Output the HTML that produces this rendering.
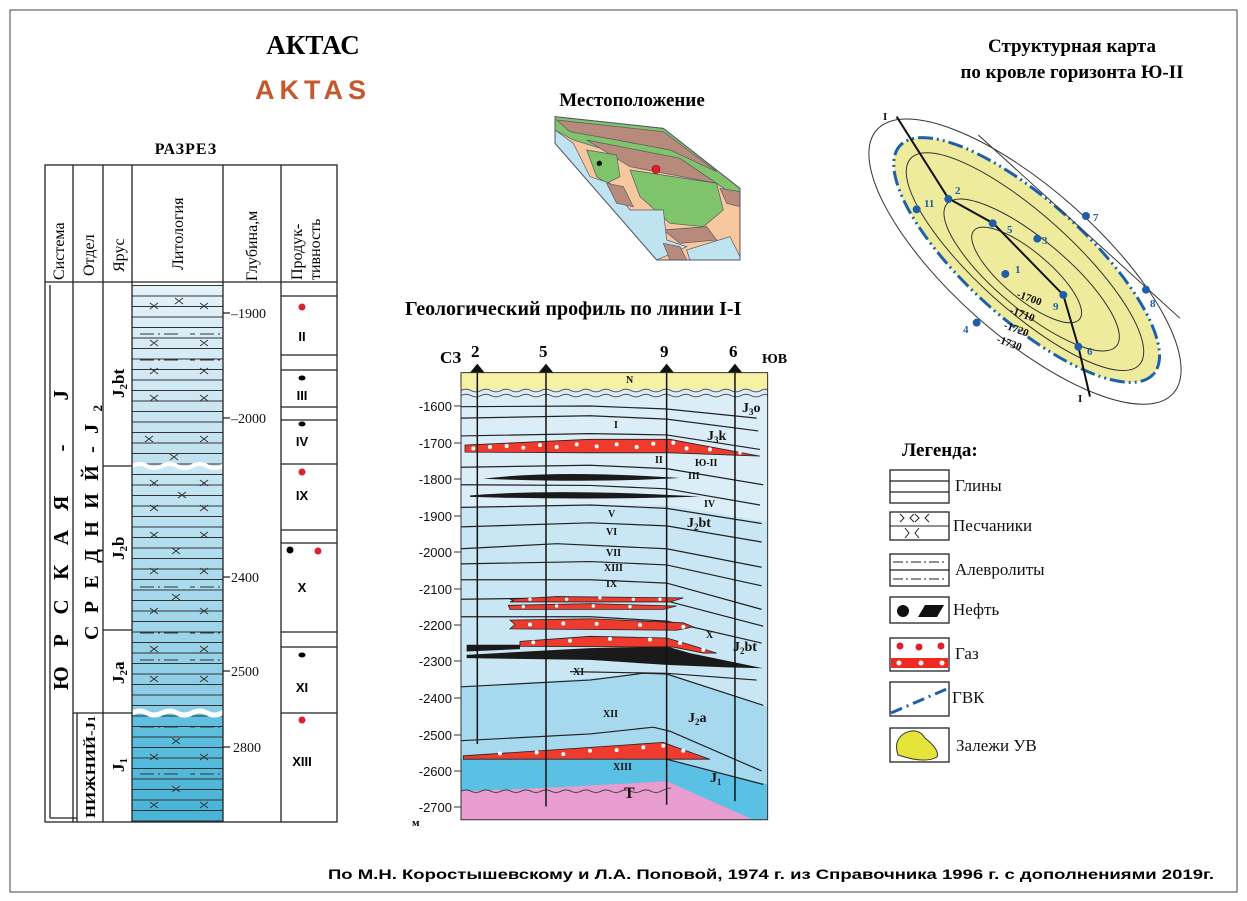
<!DOCTYPE html>
<html><head><meta charset="utf-8"><style>html,body{margin:0;padding:0;background:#fff}svg{display:block}</style></head><body>
<svg width="1247" height="901" viewBox="0 0 1247 901" xmlns="http://www.w3.org/2000/svg" font-family="'Liberation Serif','Noto Serif CJK SC',serif">
<defs>
<pattern id="hl" width="20" height="10.5" patternUnits="userSpaceOnUse" y="285"><line x1="0" y1="0.5" x2="20" y2="0.5" stroke="#333" stroke-width="0.9"/></pattern>
<linearGradient id="g1" x1="0" y1="0" x2="0" y2="1"><stop offset="0" stop-color="#e4f2f9"/><stop offset="1" stop-color="#bfe0ef"/></linearGradient>
<linearGradient id="g2" x1="0" y1="0" x2="0" y2="1"><stop offset="0" stop-color="#c9e7f3"/><stop offset="1" stop-color="#86cbe5"/></linearGradient>
<linearGradient id="g3" x1="0" y1="0" x2="0" y2="1"><stop offset="0" stop-color="#62c0e0"/><stop offset="1" stop-color="#47b3d6"/></linearGradient>
</defs>
<rect x="10" y="10" width="1227" height="882" fill="none" stroke="#444" stroke-width="1"/>

<text x="313" y="54" font-size="27" font-weight="bold" text-anchor="middle">АКТАС</text>
<text x="313" y="99" font-size="27" font-weight="bold" text-anchor="middle" fill="#c4592d" letter-spacing="5" font-family="'Liberation Sans',sans-serif">AKTAS</text>
<text x="186" y="154" font-size="16" font-weight="bold" text-anchor="middle" letter-spacing="1">РАЗРЕЗ</text>

<rect x="132" y="285" width="91" height="181" fill="url(#g1)"/>
<rect x="132" y="466" width="91" height="247" fill="url(#g2)"/>
<rect x="132" y="713" width="91" height="109" fill="url(#g3)"/>
<rect x="132" y="285" width="91" height="537" fill="url(#hl)"/>
<path d="M132 466 q8 -4 15 0 t15 0 t15 0 t15 0 t15 0 t15 0 t8 0" stroke="#fff" stroke-width="4" fill="none"/>
<path d="M132 713 q8 -4 15 0 t15 0 t15 0 t15 0 t15 0 t15 0 t8 0" stroke="#fff" stroke-width="5" fill="none"/>
<g stroke="#333" stroke-width="1" fill="none">
<path d="M150 303l8 6m0-6l-8 6M175 298l8 6m0-6l-8 6M200 303l8 6m0-6l-8 6M150 340l8 6m0-6l-8 6M200 340l8 6m0-6l-8 6M150 368l8 6m0-6l-8 6M200 368l8 6m0-6l-8 6M150 395l8 6m0-6l-8 6M200 395l8 6m0-6l-8 6M145 436l8 6m0-6l-8 6M200 436l8 6m0-6l-8 6M170 454l8 6m0-6l-8 6M150 480l8 6m0-6l-8 6M200 480l8 6m0-6l-8 6M178 492l8 6m0-6l-8 6M150 505l8 6m0-6l-8 6M200 505l8 6m0-6l-8 6M150 532l8 6m0-6l-8 6M200 532l8 6m0-6l-8 6M172 548l8 6m0-6l-8 6M150 568l8 6m0-6l-8 6M200 568l8 6m0-6l-8 6M172 594l8 6m0-6l-8 6M150 608l8 6m0-6l-8 6M200 608l8 6m0-6l-8 6M150 646l8 6m0-6l-8 6M200 646l8 6m0-6l-8 6M150 676l8 6m0-6l-8 6M200 676l8 6m0-6l-8 6M172 738l8 6m0-6l-8 6M150 754l8 6m0-6l-8 6M200 754l8 6m0-6l-8 6M172 786l8 6m0-6l-8 6M150 802l8 6m0-6l-8 6M200 802l8 6m0-6l-8 6"/>
<path d="M140 334h40m10 0h5m5 0h20M140 360h40m10 0h5m5 0h20M140 422h40m10 0h5m5 0h20M140 587h40m10 0h5m5 0h20M140 633h40m10 0h5m5 0h20M140 660h40m10 0h5m5 0h20M140 727h40m10 0h5m5 0h20M140 774h40m10 0h5m5 0h20" stroke-dasharray="14 4 2 4"/>
</g>
<g stroke="#222" stroke-width="1.3" fill="none">
<rect x="45" y="165" width="292" height="657"/>
<line x1="45" y1="282" x2="337" y2="282"/>
<line x1="73" y1="165" x2="73" y2="822"/><line x1="103" y1="165" x2="103" y2="822"/>
<line x1="132" y1="165" x2="132" y2="822"/><line x1="223" y1="165" x2="223" y2="822"/>
<line x1="281" y1="165" x2="281" y2="822"/>
<line x1="103" y1="466" x2="132" y2="466"/><line x1="103" y1="630" x2="132" y2="630"/><line x1="103" y1="713" x2="132" y2="713"/>
<line x1="73" y1="713" x2="103" y2="713"/><line x1="77" y1="713" x2="77" y2="822"/><line x1="50" y1="285" x2="50" y2="818"/><line x1="50" y1="818" x2="77" y2="818"/>
<path d="M281 296h56M281 355h56M281 370h56M281 407h56M281 420h56M281 464h56M281 530h56M281 543h56M281 632h56M281 647h56M281 713h56"/>
<path d="M223 313h7M223 418h7M223 577h7M223 671h7M223 747h7"/>
</g>
<g font-size="14" fill="#111">
<text x="231" y="318">–1900</text><text x="231" y="423">–2000</text><text x="231" y="582">2400</text><text x="231" y="676">2500</text><text x="233" y="752">2800</text>
</g>
<g font-size="16">
<text transform="translate(64,280) rotate(-90)">Система</text>
<text transform="translate(94,276) rotate(-90)">Отдел</text>
<text transform="translate(124,272) rotate(-90)">Ярус</text>
<text transform="translate(183,270) rotate(-90)">Литология</text>
<text transform="translate(257,281) rotate(-90)">Глубина,м</text>
<text transform="translate(302,280) rotate(-90)">Продук-</text>
<text transform="translate(320,280) rotate(-90)">тивность</text>
<text transform="translate(68,690) rotate(-90)" font-size="21" font-weight="bold" textLength="300" lengthAdjust="spacing">ЮРСКАЯ - J</text>
<text transform="translate(98,640) rotate(-90)" font-size="20" font-weight="bold" textLength="235" lengthAdjust="spacing">СРЕДНИЙ-J<tspan font-size="13" dy="4">2</tspan></text>
<text transform="translate(95,818) rotate(-90)" font-size="14" font-weight="bold" textLength="102" lengthAdjust="spacingAndGlyphs">НИЖНИЙ-J<tspan font-size="10">1</tspan></text>
<text transform="translate(124,398) rotate(-90)" font-size="17" font-weight="bold">J<tspan font-size="11" dy="3">2</tspan><tspan dy="-3">bt</tspan></text>
<text transform="translate(124,560) rotate(-90)" font-size="17" font-weight="bold">J<tspan font-size="11" dy="3">2</tspan><tspan dy="-3">b</tspan></text>
<text transform="translate(124,684) rotate(-90)" font-size="17" font-weight="bold">J<tspan font-size="11" dy="3">2</tspan><tspan dy="-3">a</tspan></text>
<text transform="translate(124,772) rotate(-90)" font-size="17" font-weight="bold">J<tspan font-size="11" dy="3">1</tspan></text>
</g>
<g font-family="'Liberation Sans',sans-serif" font-weight="bold" font-size="13" text-anchor="middle">
<circle cx="302" cy="307" r="3.5" fill="#e0202a"/><text x="302" y="341">II</text>
<ellipse cx="302" cy="378" rx="3.5" ry="2.5" fill="#000"/><text x="302" y="400">III</text>
<ellipse cx="302" cy="424" rx="3.5" ry="2.5" fill="#000"/><text x="302" y="446">IV</text>
<circle cx="302" cy="472" r="3.5" fill="#e0202a"/><text x="302" y="500">IX</text>
<circle cx="290" cy="550" r="3.5" fill="#000"/><circle cx="318" cy="551" r="3.5" fill="#e0202a"/><text x="302" y="592">X</text>
<ellipse cx="302" cy="655" rx="3.5" ry="2.5" fill="#000"/><text x="302" y="692">XI</text>
<circle cx="302" cy="720" r="3.5" fill="#e0202a"/><text x="302" y="766">XIII</text>
</g>

<text x="632" y="106" font-size="19" font-weight="bold" text-anchor="middle">Местоположение</text>
<g transform="translate(530,100) scale(0.3333)" stroke="#556" stroke-width="2">
<path d="M75 50 L400 85 L630 265 L630 480 L380 480 L75 130 Z" fill="#f7c79e"/>
<path d="M75 50 L400 85 L630 265 L630 300 L560 250 L420 190 L260 160 L130 120 L75 90 Z" fill="#7fc46a"/>
<path d="M80 60 L400 95 L560 215 L420 150 L260 120 L120 95 Z" fill="#b88a7c"/>
<path d="M170 120 L450 175 L560 250 L300 200 Z" fill="#b88a7c"/>
<path d="M300 210 L560 250 L580 330 L520 380 L420 370 L330 290 Z" fill="#7fc46a"/>
<path d="M170 150 L260 165 L270 230 L230 250 L200 230 Z" fill="#7fc46a"/>
<path d="M570 265 L630 275 L630 320 L590 310 Z" fill="#b88a7c"/>
<path d="M400 390 L530 380 L560 420 L450 430 Z" fill="#b88a7c"/>
<path d="M75 130 L75 90 L130 130 L180 230 L240 250 L300 330 L400 330 L410 420 L470 440 L380 480 Z" fill="#bfe3ef"/>
<path d="M470 450 L600 410 L630 470 L630 480 L480 480 Z" fill="#bfe3ef"/>
<path d="M230 250 L280 260 L310 320 L260 310 Z" fill="#b88a7c"/>
<path d="M400 430 L450 440 L470 480 L420 480 Z" fill="#b88a7c"/>
<path d="M75 50 L400 85 L630 265 L630 480 L380 480 L75 130 Z" fill="none" stroke-width="3"/>
<circle cx="208" cy="190" r="8" fill="#111" stroke="none"/>
<circle cx="378" cy="208" r="12" fill="#e0202a" stroke="#900"/>
</g>

<text x="405" y="315" font-size="20" font-weight="bold">Геологический профиль по линии I-I</text>
<g transform="translate(390,340) scale(0.3333,0.3367)">
<rect x="213" y="97" width="920" height="1328" fill="#dbeef8"/>
<path d="M213 495 L830 490 L1133 540 L1133 1425 L213 1425Z" fill="#c8e6f3"/>
<path d="M213 1030 L830 990 L1133 1090 L1133 1425 L213 1425Z" fill="#a6d8ee"/>
<path d="M213 1245 L830 1245 L1133 1320 L1133 1425 L213 1425Z" fill="#5bc1e4"/>
<path d="M213 1340 Q520 1330 830 1310 L1090 1425 L213 1425Z" fill="#e89ccf"/>
<rect x="213" y="97" width="920" height="50" fill="#f6f1a3"/>
<path d="M213 150 q15 -8 30 0 t30 0 t30 0 t30 0 t30 0 t30 0 t30 0 t30 0 t30 0 t30 0 t30 0 t30 0 t30 0 t30 0 t30 0 t30 0 t30 0 t30 0 t30 0 t30 0 t30 0 t30 0 t30 0 t30 0 t30 0 t30 0 t30 0 t30 0 t30 0 t30 0 t20 0" stroke="#555" fill="none" stroke-width="1" vector-effect="non-scaling-stroke"/>
<path d="M213 165 q15 -8 30 0 t30 0 t30 0 t30 0 t30 0 t30 0 t30 0 t30 0 t30 0 t30 0 t30 0 t30 0 t30 0 t30 0 t30 0 t30 0 t30 0 t30 0 t30 0 t30 0 t30 0 t30 0 t30 0 t30 0 t30 0 t30 0 t30 0 t30 0 t30 0 t30 0 t20 0" stroke="#555" fill="none" stroke-width="1" vector-effect="non-scaling-stroke"/>
<g stroke="#222" fill="none" stroke-width="1.2">
<path vector-effect="non-scaling-stroke" d="M213 198 L600 196 L830 205 L1100 232"/>
<path vector-effect="non-scaling-stroke" d="M213 232 L600 225 L830 235 L1105 270"/>
<path vector-effect="non-scaling-stroke" d="M213 285 L600 278 L830 282 L1110 325"/>
<path vector-effect="non-scaling-stroke" d="M213 378 L600 372 L830 382 L1120 430"/>
<path vector-effect="non-scaling-stroke" d="M213 430 L600 432 L830 442 L1110 490"/>
<path vector-effect="non-scaling-stroke" d="M213 497 L600 490 L830 500 L1115 545"/>
<path vector-effect="non-scaling-stroke" d="M213 555 L600 543 L830 552 L1115 600"/>
<path vector-effect="non-scaling-stroke" d="M213 620 L500 605 L830 620 L1115 675"/>
<path vector-effect="non-scaling-stroke" d="M213 665 L600 658 L830 668 L1115 730"/>
<path vector-effect="non-scaling-stroke" d="M213 712 L600 712 L830 722 L1115 800"/>
<path vector-effect="non-scaling-stroke" d="M213 770 L600 765 L830 775 L1120 850"/>
<path vector-effect="non-scaling-stroke" d="M213 822 L600 822 L830 835 L1115 900"/>
<path vector-effect="non-scaling-stroke" d="M540 985 L830 990 L1100 1010"/>
<path vector-effect="non-scaling-stroke" d="M213 1030 L600 1010 L760 990 L830 992 L1120 1085"/>
<path vector-effect="non-scaling-stroke" d="M213 1190 L600 1170 L790 1150 L840 1162 L1115 1280"/>
<path vector-effect="non-scaling-stroke" d="M830 1245 L1120 1320"/>
</g>
<g fill="#ee3b2e" stroke="#222" stroke-width="0.8">
<path vector-effect="non-scaling-stroke" d="M225 312 L600 295 L840 295 L1110 345 L840 335 L600 335 L225 333Z"/>
<path vector-effect="non-scaling-stroke" d="M360 770 L500 762 L880 766 L840 778 L360 778 L370 774Z"/>
<path vector-effect="non-scaling-stroke" d="M355 788 L600 783 L860 790 L820 800 L360 800Z"/>
<path vector-effect="non-scaling-stroke" d="M360 832 L600 828 L880 840 L910 852 L860 862 L360 858 L375 845Z"/>
<path vector-effect="non-scaling-stroke" d="M390 895 L600 880 L830 885 L900 905 L980 930 L940 930 L850 912 L390 910Z"/>
<path vector-effect="non-scaling-stroke" d="M220 1235 L600 1210 L820 1195 L860 1210 L960 1245 L220 1245Z"/>
</g>
<g fill="#fff">
<circle cx="250" cy="322" r="6"/><circle cx="300" cy="318" r="6"/><circle cx="350" cy="315" r="6"/><circle cx="400" cy="320" r="6"/><circle cx="450" cy="312" r="6"/><circle cx="500" cy="318" r="6"/><circle cx="560" cy="310" r="6"/><circle cx="620" cy="316" r="6"/><circle cx="680" cy="310" r="6"/><circle cx="740" cy="318" r="6"/><circle cx="790" cy="308" r="6"/><circle cx="850" cy="305" r="6"/><circle cx="890" cy="322" r="6"/><circle cx="960" cy="325" r="6"/><circle cx="1050" cy="335" r="5"/>
<circle cx="420" cy="770" r="5"/><circle cx="530" cy="770" r="5"/><circle cx="630" cy="766" r="5"/><circle cx="730" cy="770" r="5"/><circle cx="810" cy="770" r="5"/>
<circle cx="400" cy="792" r="5"/><circle cx="500" cy="790" r="5"/><circle cx="610" cy="790" r="5"/><circle cx="720" cy="792" r="5"/>
<circle cx="420" cy="845" r="6"/><circle cx="520" cy="842" r="6"/><circle cx="620" cy="843" r="6"/><circle cx="750" cy="846" r="6"/><circle cx="880" cy="852" r="6"/>
<circle cx="430" cy="898" r="6"/><circle cx="540" cy="893" r="6"/><circle cx="660" cy="888" r="6"/><circle cx="780" cy="890" r="6"/><circle cx="870" cy="900" r="6"/><circle cx="940" cy="920" r="6"/>
<circle cx="330" cy="1228" r="6"/><circle cx="440" cy="1225" r="6"/><circle cx="520" cy="1230" r="6"/><circle cx="600" cy="1220" r="6"/><circle cx="680" cy="1218" r="6"/><circle cx="760" cy="1210" r="6"/><circle cx="820" cy="1205" r="6"/><circle cx="880" cy="1220" r="6"/>
</g>
<g fill="#1a1a1a">
<path d="M280 412 Q500 385 870 410 Q600 425 280 412Z"/>
<path d="M240 462 Q500 440 930 465 Q600 476 240 466Z"/>
<path d="M230 905 L390 905 L390 918 L230 925Z"/>
<path d="M230 935 L600 915 L830 910 L900 930 L1120 975 L1000 972 L830 965 L600 950 L230 945Z"/>
</g>
<path d="M213 1340 q15 -8 30 0 t30 0 t30 0 t30 0 t30 0 t30 0 t30 0 t30 0 t30 0 t30 0 t30 0 t30 0 t30 0 t30 0 t30 0 t30 0 t30 0 t30 0 t30 0 t30 0 t30 -10" stroke="#444" fill="none" vector-effect="non-scaling-stroke"/>
<g stroke="#111" stroke-width="1.5">
<line vector-effect="non-scaling-stroke" x1="262" y1="97" x2="262" y2="1200"/>
<line vector-effect="non-scaling-stroke" x1="468" y1="97" x2="468" y2="1385"/>
<line vector-effect="non-scaling-stroke" x1="830" y1="97" x2="830" y2="1380"/>
<line vector-effect="non-scaling-stroke" x1="1035" y1="97" x2="1035" y2="1370"/>
</g>
<g fill="#111"><path d="M240 97 L262 70 L284 97Z"/><path d="M446 97 L468 70 L490 97Z"/><path d="M808 97 L830 70 L852 97Z"/><path d="M1013 97 L1035 70 L1057 97Z"/></g>
<rect x="213" y="97" width="920" height="1328" fill="none" stroke="#333" stroke-width="1" vector-effect="non-scaling-stroke"/>
</g>
<g font-size="13" font-family="'Liberation Sans',sans-serif" text-anchor="end" fill="#111">
<text x="452" y="411">-1600</text><text x="452" y="448">-1700</text><text x="452" y="484">-1800</text><text x="452" y="521">-1900</text><text x="452" y="557">-2000</text><text x="452" y="594">-2100</text><text x="452" y="630">-2200</text><text x="452" y="666">-2300</text><text x="452" y="703">-2400</text><text x="452" y="740">-2500</text><text x="452" y="776">-2600</text><text x="452" y="812">-2700</text>
</g>
<g stroke="#333"><path d="M454 406h7M454 443h7M454 479h7M454 516h7M454 552h7M454 589h7M454 625h7M454 661h7M454 698h7M454 735h7M454 771h7M454 807h7"/></g>
<g font-weight="bold" font-size="17">
<text x="412" y="826" font-size="11">м</text>
<text x="440" y="363">СЗ</text><text x="471" y="357">2</text><text x="539" y="357">5</text><text x="660" y="357">9</text><text x="729" y="357">6</text><text x="762" y="363" font-size="14">ЮВ</text>
</g>
<g font-weight="bold" font-size="10" fill="#111">
<text x="626" y="383">N</text><text x="614" y="428">I</text><text x="655" y="463">II</text><text x="695" y="466">Ю-II</text><text x="688" y="479">III</text><text x="704" y="507">IV</text>
<text x="608" y="517">V</text><text x="606" y="535">VI</text><text x="606" y="556">VII</text><text x="604" y="571">XIII</text><text x="606" y="587">IX</text><text x="706" y="638">X</text><text x="573" y="675">XI</text><text x="603" y="717">XII</text><text x="613" y="770">XIII</text>
<text x="742" y="412" font-size="14">J<tspan font-size="9" dy="3">3</tspan><tspan dy="-3">o</tspan></text>
<text x="707" y="440" font-size="14">J<tspan font-size="9" dy="3">3</tspan><tspan dy="-3">k</tspan></text>
<text x="687" y="527" font-size="14">J<tspan font-size="9" dy="3">2</tspan><tspan dy="-3">bt</tspan></text>
<text x="733" y="651" font-size="14">J<tspan font-size="9" dy="3">2</tspan><tspan dy="-3">bt</tspan></text>
<text x="688" y="722" font-size="14">J<tspan font-size="9" dy="3">2</tspan><tspan dy="-3">a</tspan></text>
<text x="710" y="782" font-size="14">J<tspan font-size="9" dy="3">1</tspan></text>
<text x="624" y="798" font-size="16">T</text>
</g>

<text x="1072" y="52" font-size="19" font-weight="bold" text-anchor="middle">Структурная карта</text>
<text x="1072" y="78" font-size="19" font-weight="bold" text-anchor="middle">по кровле горизонта Ю-II</text>
<g transform="translate(860,100) scale(0.3333)" fill="none" stroke-width="3">
<ellipse cx="495" cy="485" rx="595" ry="220" transform="rotate(41.6 495 485)" stroke="#333"/>
<ellipse cx="500" cy="480" rx="512" ry="178" transform="rotate(42 500 480)" fill="#eeec9c" stroke="#1e5fae" stroke-width="9" stroke-dasharray="45 12 6 12 6 12"/>
<ellipse cx="495" cy="485" rx="462" ry="142" transform="rotate(42 495 485)" stroke="#333"/>
<ellipse cx="515" cy="525" rx="332" ry="105" transform="rotate(40 515 525)" stroke="#333"/>
<ellipse cx="500" cy="525" rx="207" ry="70" transform="rotate(40 500 525)" stroke="#333"/>
<line x1="355" y1="105" x2="960" y2="655" stroke="#333"/>
<polyline points="110,50 265,295 400,370 610,585 655,740 690,890" stroke="#111" stroke-width="6"/>
<g fill="#1f5ea8" stroke="none">
<circle cx="170" cy="328" r="12"/><circle cx="265" cy="297" r="12"/><circle cx="678" cy="348" r="12"/><circle cx="398" cy="370" r="12"/><circle cx="532" cy="416" r="12"/><circle cx="436" cy="522" r="12"/><circle cx="610" cy="585" r="12"/><circle cx="858" cy="569" r="12"/><circle cx="350" cy="668" r="12"/><circle cx="655" cy="740" r="12"/>
</g>
</g>
<g font-size="11" font-weight="bold" fill="#1f5ea8">
<text x="924" y="207">11</text><text x="955" y="194">2</text><text x="1093" y="221">7</text><text x="1007" y="233">5</text><text x="1042" y="244">3</text><text x="1015" y="273">1</text><text x="1053" y="310">9</text><text x="1150" y="307">8</text><text x="963" y="333">4</text><text x="1087" y="355">6</text>
</g>
<g font-size="11" font-weight="bold" fill="#111">
<text x="883" y="120">I</text><text x="1078" y="402">I</text>
<text transform="translate(1016,297) rotate(20)">-1700</text>
<text transform="translate(1009,313) rotate(20)">-1710</text>
<text transform="translate(1003,328) rotate(20)">-1720</text>
<text transform="translate(996,342) rotate(20)">-1730</text>
</g>

<text x="902" y="456" font-size="19" font-weight="bold">Легенда:</text>
<g stroke="#222" stroke-width="1.3" fill="none">
<rect x="890" y="470" width="59" height="33" fill="#fff"/><path d="M890 481h59M890 492h59"/>
<rect x="890" y="512" width="59" height="28"/><path d="M890 526h59M900 514l4 4l-4 4m14-8l-4 4l4 4M915 514l4 4l-4 4m14-8l-4 4l4 4M905 528l4 5l-4 5m14-10l-4 5l4 5" stroke-width="1"/>
<rect x="890" y="554" width="59" height="32"/><path d="M890 570h59"/><path d="M893 562h53M893 579h53" stroke-dasharray="10 3 2 3" stroke-width="1"/>
<rect x="890" y="597" width="59" height="26"/>
<rect x="890" y="638" width="59" height="33"/>
<rect x="890" y="682" width="59" height="34"/>
<rect x="890" y="728" width="59" height="34"/>
</g>
<circle cx="903" cy="611" r="6" fill="#111"/><path d="M918 617 L925 605 L944 605 L937 617Z" fill="#111"/>
<rect x="891" y="658" width="57" height="10" fill="#ee2a22"/>
<circle cx="900" cy="646" r="3.5" fill="#e0202a"/><circle cx="919" cy="647" r="3.5" fill="#e0202a"/><circle cx="941" cy="646" r="3.5" fill="#e0202a"/>
<circle cx="899" cy="663" r="2.5" fill="#fff"/><circle cx="921" cy="663" r="2.5" fill="#fff"/><circle cx="942" cy="663" r="2.5" fill="#fff"/>
<path d="M891 713 L949 688" stroke="#1f5ea8" stroke-width="3" stroke-dasharray="12 5 2 5"/>
<path d="M898 755 Q893 740 905 733 Q918 727 925 738 Q940 750 937 757 Q925 764 898 755Z" fill="#e4e43b" stroke="#333"/>
<g font-size="17" fill="#111">
<text x="955" y="491">Глины</text><text x="953" y="531">Песчаники</text><text x="955" y="575">Алевролиты</text><text x="953" y="615">Нефть</text><text x="955" y="659">Газ</text><text x="952" y="703">ГВК</text><text x="956" y="751">Залежи УВ</text>
</g>

<text x="328" y="879" font-family="'Liberation Sans',sans-serif" font-size="14" font-weight="bold" textLength="886" lengthAdjust="spacingAndGlyphs">По М.Н. Коростышевскому и Л.А. Поповой, 1974 г. из Справочника 1996 г. с дополнениями 2019г.</text>
</svg>
</body></html>
